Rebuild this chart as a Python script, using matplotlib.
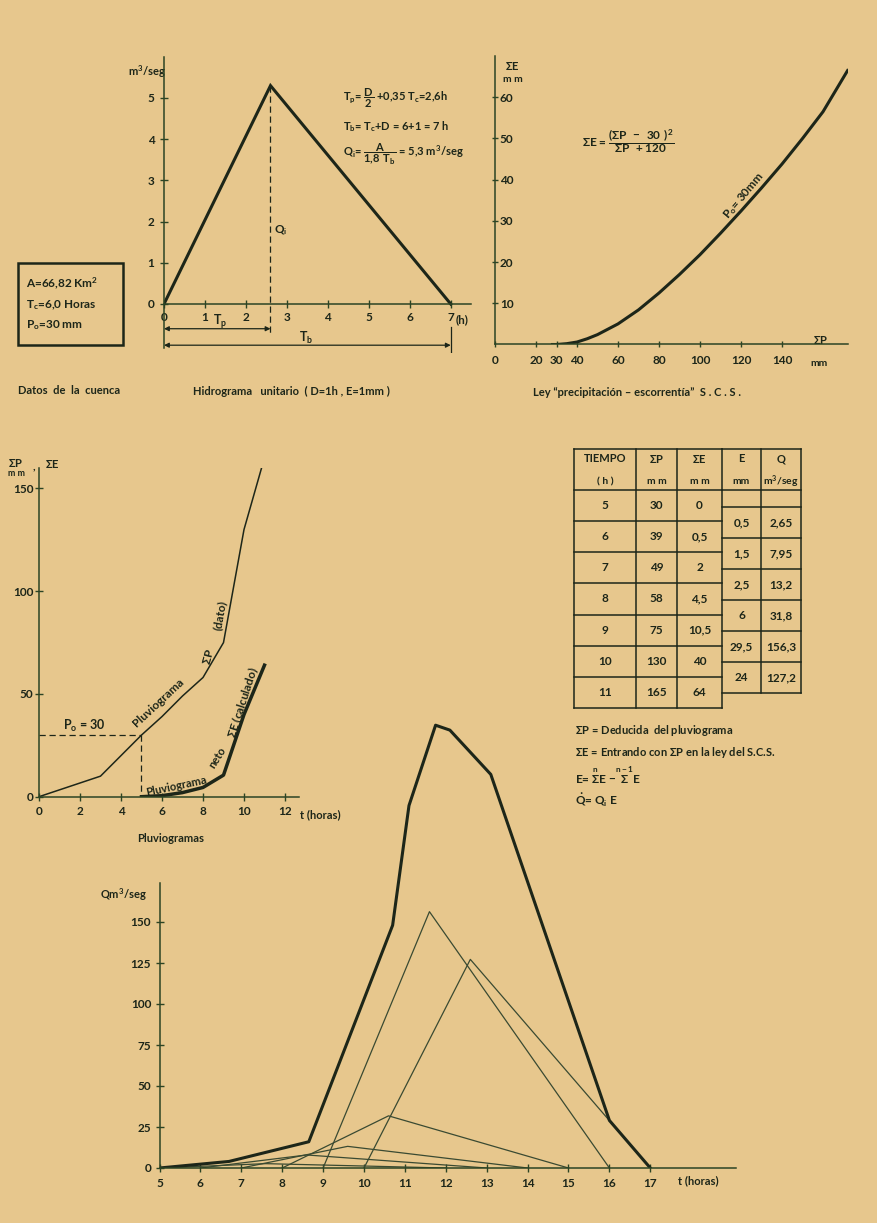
import matplotlib
matplotlib.use('Agg')
import matplotlib.pyplot as plt

W, H = 878, 1223
BG = '#E7C78D'
INK = '#1d2619'
AX = '#2c4424'
THIN = '#3a4a32'

plt.rcParams['font.family'] = ['Lato', 'DejaVu Sans']
plt.rcParams['font.weight'] = 'bold'
plt.rcParams['mathtext.fontset'] = 'dejavusans'
plt.rcParams['mathtext.default'] = 'regular'

# ---------------- data ----------------
# unit hydrograph (D=1h, E=1mm)
uh_t = [0, 2.6, 7]
uh_q = [0, 5.3, 0]
Tp, Tb = 2.6, 7.0

# SCS precipitation-runoff law
scs_P = [28, 30, 35, 40, 45, 50, 60, 70, 80, 90, 100, 110, 120, 130, 140, 150, 160, 172]
scs_E = [0, 0, 0.2, 0.6, 1.4, 2.4, 5.0, 8.4, 12.5, 17.0, 21.8, 27.0, 32.4, 38.0, 43.8, 50.0, 56.5, 66.5]

# table
tiempo = [5, 6, 7, 8, 9, 10, 11]
sumP = [30, 39, 49, 58, 75, 130, 165]
sumE = [0, 0.5, 2, 4.5, 10.5, 40, 64]
E_inc = [0.5, 1.5, 2.5, 6, 29.5, 24]
Q_peak = [2.65, 7.95, 13.2, 31.8, 156.3, 127.2]

# start of pluviogram before the table
pluvio_t0 = [0, 3]
pluvio_P0 = [0, 10]

# total flood hydrograph
total_t = [5, 6.7, 8.65, 10.7, 11.1, 11.75, 12.1, 13.1, 16.0, 17]
total_Q = [0, 4, 16, 148, 221, 270, 267, 240, 29, 0]

# ---------------- figure ----------------
fig = plt.figure(figsize=(W / 100, H / 100), dpi=100)
fig.patch.set_facecolor(BG)

ov = fig.add_axes([0, 0, 1, 1])
ov.set_xlim(0, W)
ov.set_ylim(H, 0)
ov.axis('off')
ov.set_facecolor('none')

TICKFS = 8.5


def px_axes(x0, x1, ytop, ybot):
    return fig.add_axes([x0 / W, 1 - ybot / H, (x1 - x0) / W, (ybot - ytop) / H])


def style(ax, fs=TICKFS):
    ax.set_facecolor('none')
    for s in ['top', 'right']:
        ax.spines[s].set_visible(False)
    for s in ['left', 'bottom']:
        ax.spines[s].set_color(AX)
        ax.spines[s].set_linewidth(1.1)
    ax.tick_params(colors=AX, labelcolor=INK, direction='inout', length=6,
                   width=1.0, labelsize=fs)


def fmt(v):
    return ('%g' % v).replace('.', ',')


def txt(x, y, s, size=8, ha='left', va='center', rot=0, **kw):
    ov.text(x, y, s, fontsize=size, ha=ha, va=va, rotation=rot, color=INK,
            fontweight='bold', rotation_mode='anchor', **kw)


# ---------------- panel 1 : unit hydrograph ----------------
sx1, sy1 = 40.96, 41.2
ax1 = px_axes(164, 164 + 7.5 * sx1, 304 - 6 * sy1, 304 + 1.2 * sy1)
style(ax1)
ax1.set_xlim(0, 7.5)
ax1.set_ylim(-1.2, 6)
ax1.spines['bottom'].set_position(('data', 0))
ax1.spines['left'].set_bounds(-1.07, 6)
ax1.set_xticks(range(0, 8))
ax1.set_yticks(range(0, 6))
ax1.tick_params(axis='x', pad=3)
ax1.tick_params(axis='y', pad=4)
ax1.plot(uh_t, uh_q, color=INK, lw=2.2, solid_joinstyle='miter')
ax1.plot([uh_t[1], uh_t[1]], [uh_q[1], -0.75], color=INK, lw=0.9, ls=(0, (5, 3)))
ax1.annotate('', xy=(Tp, -0.6), xytext=(0, -0.6),
             arrowprops=dict(arrowstyle='<|-|>', color=INK, lw=0.9,
                             mutation_scale=7, shrinkA=0, shrinkB=0))
ax1.annotate('', xy=(Tb, -1.0), xytext=(0, -1.0),
             arrowprops=dict(arrowstyle='<|-|>', color=INK, lw=0.9,
                             mutation_scale=7, shrinkA=0, shrinkB=0))
ax1.plot([Tb, Tb], [-0.56, -1.17], color=INK, lw=0.9)
ax1.text(Tb + 0.12, -0.38, '(h)', fontsize=8.5, color=INK, va='center', ha='left')
ax1.text(1.2, -0.44, r'T$_p$', fontsize=9, color=INK, va='center', ha='left')
ax1.text(3.30, -0.82, r'T$_b$', fontsize=9, color=INK, va='center', ha='left')
ax1.text(2.68, 1.8, r'Q$_i$', fontsize=8.5, color=INK, va='center', ha='left')
txt(166, 72, r'm$^3$/seg', ha='right', size=8)

txt(343, 98, r'T$_p$= $\dfrac{D}{2}$ +0,35 T$_c$=2,6h', size=8)
txt(343, 127, r'T$_b$= T$_c$+D = 6+1 = 7 h', size=8)
txt(343, 154, r'Q$_i$= $\dfrac{A}{1{,}8\ T_b}$ = 5,3 m$^3$/seg', size=8)

# basin data box
ov.add_patch(plt.Rectangle((18, 263), 105, 82, fill=False, ec=INK, lw=1.8))
txt(26, 283, r'A=66,82 Km$^2$', size=8.5)
txt(26, 305, r'T$_c$=6,0 Horas', size=8.5)
txt(26, 325, r'P$_o$=30 mm', size=8.5)

txt(18, 391, 'Datos  de  la  cuenca', size=8)
txt(193, 391, 'Hidrograma   unitario  ( D=1h , E=1mm )', size=8)
txt(533, 392, 'Ley \u201cprecipitación \u2013 escorrentía\u201d  S . C . S .', size=8)

# ---------------- panel 2 : SCS law ----------------
sx2, sy2 = 2.05, 4.12
ax2 = px_axes(495, 495 + 172 * sx2, 344.5 - 70 * sy2, 344.5)
style(ax2)
ax2.set_xlim(0, 172)
ax2.set_ylim(0, 70)
ax2.set_xticks([0, 20, 30, 40, 60, 80, 100, 120, 140])
ax2.set_yticks([10, 20, 30, 40, 50, 60])
ax2.tick_params(axis='y', pad=-6, length=5)
for lab in ax2.get_yticklabels():
    lab.set_horizontalalignment('left')
ax2.tick_params(axis='x', pad=5, length=5)
ax2.plot(scs_P, scs_E, color=INK, lw=2.2)
txt(505, 66, r'$\Sigma$E', size=8)
txt(503, 80, 'm m', size=7.5)
txt(813, 340, r'$\Sigma$P', size=8)
txt(810, 364, 'mm', size=7.5)
txt(582, 142, r'$\Sigma$E = $\dfrac{(\Sigma P\ -\ 30\ )^2}{\Sigma P\ +120}$', size=8.5)
txt(744, 196, r'P$_o$= 30mm', size=8.5, ha='center', rot=50)

# ---------------- panel 3 : pluviograms ----------------
sx3, sy3 = 20.5, 2.055
ax3 = px_axes(39, 39 + 12.7 * sx3, 796.7 - 160 * sy3, 796.7)
style(ax3)
ax3.set_xlim(0, 12.7)
ax3.set_ylim(0, 160)
ax3.set_xticks(range(0, 13, 2))
ax3.set_yticks([0, 50, 100, 150])
ax3.tick_params(axis='y', pad=1)
ax3.tick_params(axis='x', pad=4)
ax3.plot(pluvio_t0 + tiempo, pluvio_P0 + sumP, color=INK, lw=1.1)
ax3.plot(tiempo, sumE, color=INK, lw=2.5)
ax3.plot([0, tiempo[0]], [sumP[0], sumP[0]], color=INK, lw=0.9, ls=(0, (5, 3)))
ax3.plot([tiempo[0], tiempo[0]], [sumP[0], 0], color=INK, lw=0.9, ls=(0, (5, 3)))
txt(8, 463, r'$\Sigma$P', size=8)
txt(8, 474, 'm m', size=6.5)
txt(33, 466, ',', size=8)
txt(45, 464, r'$\Sigma$E', size=8)
txt(300, 815, 't (horas)', size=8)
txt(137, 838, 'Pluviogramas', size=8)
txt(63, 726, r'P$_o$ = 30', size=9)
txt(158, 703, 'Pluviograma', size=8.5, ha='center', rot=43)
txt(208, 657, r'$\Sigma$P', size=8.5, ha='center', rot=75)
txt(220, 615, '(dato)', size=8.5, ha='center', rot=80)
txt(176, 786, 'Pluviograma', size=8, ha='center', rot=12)
txt(217, 757, 'neto', size=8, ha='center', rot=58)
txt(243, 702, r'$\Sigma$E (calculado)', size=8.5, ha='center', rot=72)

# ---------------- panel 4 : table ----------------
cols = [574, 636, 677, 722, 761, 801]
ttop, hbot, lbot = 449, 490, 708
rowh = (lbot - hbot) / len(tiempo)
rtop = 507
rrowh = 31
rbot = rtop + rrowh * len(E_inc)
tlw = 1.1
for y in [ttop, hbot] + [hbot + rowh * (i + 1) for i in range(len(tiempo))]:
    ov.plot([cols[0], cols[3]], [y, y], color=INK, lw=tlw)
for y in [ttop, hbot, rtop] + [rtop + rrowh * (i + 1) for i in range(len(E_inc))]:
    ov.plot([cols[3], cols[5]], [y, y], color=INK, lw=tlw)
for x in cols[:4]:
    ov.plot([x, x], [ttop, lbot], color=INK, lw=tlw)
for x in cols[4:]:
    ov.plot([x, x], [ttop, rbot], color=INK, lw=tlw)
cc = [(cols[i] + cols[i + 1]) / 2 for i in range(5)]
head1 = ['TIEMPO', r'$\Sigma$P', r'$\Sigma$E', 'E', 'Q']
head2 = ['( h )', 'm m', 'm m', 'mm', r'm$^3$/seg']
for c, a, b in zip(cc, head1, head2):
    txt(c, 459, a, size=8, ha='center')
    txt(c, 482, b, size=7.5, ha='center')
for i in range(len(tiempo)):
    y = hbot + rowh * (i + 0.5)
    txt(cc[0], y, fmt(tiempo[i]), size=8.5, ha='center')
    txt(cc[1], y, fmt(sumP[i]), size=8.5, ha='center')
    txt(cc[2], y, fmt(sumE[i]), size=8.5, ha='center')
for i in range(len(E_inc)):
    y = rtop + rrowh * (i + 0.5)
    txt(cc[3], y, fmt(E_inc[i]), size=8.5, ha='center')
    txt(cc[4], y, fmt(Q_peak[i]), size=8.5, ha='center')

txt(575, 731, r'$\Sigma$P = Deducida  del pluviograma', size=8)
txt(575, 752, r'$\Sigma$E = Entrando con $\Sigma$P en la ley del S.C.S.', size=8)
txt(575, 776, r'E= $\overset{n}{\Sigma}$E $-\overset{n-1}{\Sigma}$E', size=8.5)
txt(575, 800, r'$\dot{Q}$= Q$_i$ E', size=8.5)

# ---------------- panel 5 : flood hydrograph ----------------
sx5, sy5 = 40.9, 1.64
ax5 = px_axes(159.5, 159.5 + 14.1 * sx5, 1168 - 275 * sy5, 1168)
style(ax5)
ax5.set_xlim(5, 19.1)
ax5.set_ylim(0, 275)
ax5.spines['left'].set_bounds(0, 174)
ax5.set_xticks(range(5, 18))
ax5.set_yticks(range(0, 151, 25))
ax5.tick_params(axis='y', pad=3)
ax5.tick_params(axis='x', pad=4)
for s, q in zip(tiempo[:-1], Q_peak):
    ax5.plot([s, s + Tp, s + Tb], [0, q, 0], color=THIN, lw=0.9)
ax5.plot(total_t, total_Q, color=INK, lw=2.2)
txt(100, 895, r'Qm$^3$/seg', size=8)
txt(678, 1181, 't (horas)', size=8)

fig.savefig('out.png', dpi=100, facecolor=BG)
